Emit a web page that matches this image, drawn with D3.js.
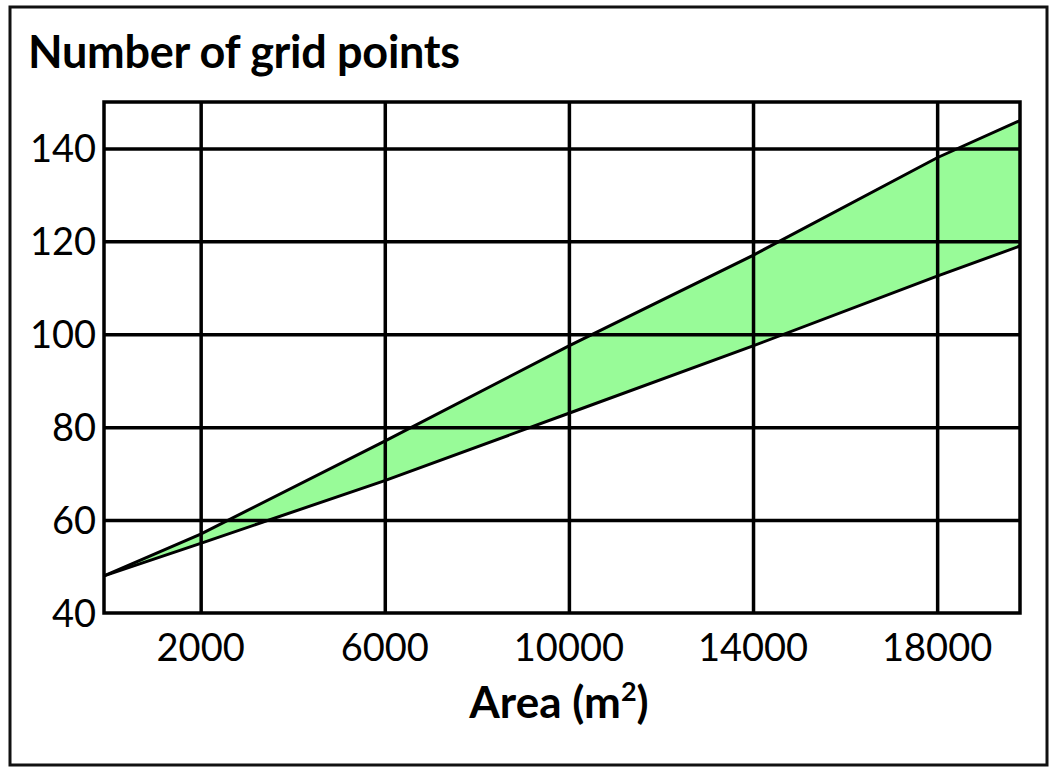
<!DOCTYPE html>
<html>
<head>
<meta charset="utf-8">
<script src="https://cdn.jsdelivr.net/npm/d3@7"></script>
<style>
  body { margin: 0; background: #fff; }
  text { font-family: "Lato", "DejaVu Sans", sans-serif; fill: #000; }
</style>
</head>
<body>
<div id="chart"></div>
<script>
// Data
const areaValues = [-100, 2000, 6000, 10000, 14000, 18000, 19800]
const upperPoints = [48, 57, 77, 97.5, 117, 138, 146]
const lowerPoints = [48, 55, 68.5, 83, 97.5, 112.5, 119]
const xTicks = [2000, 6000, 10000, 14000, 18000]
const yTicks = [40, 60, 80, 100, 120, 140]

// Dimensions
const width = 1054
const height = 772
const plot = {left: 104, right: 1020, top: 102, bottom: 613}
const lineColor = "#000"
const fillColor = "#98fb98"

const svg = d3.select("#chart")
  .append("svg")
    .attr("width", width)
    .attr("height", height)

// Outer frame
svg.append("rect")
    .attr("x", 10).attr("y", 7)
    .attr("width", 1037).attr("height", 758)
    .attr("fill", "none")
    .attr("stroke", "#111")
    .attr("stroke-width", 3)

// Scales
const xScale = d3.scaleLinear()
    .domain([-100, 19800])
    .range([plot.left, plot.right])
const yScale = d3.scaleLinear()
    .domain([40, 150])
    .range([plot.bottom, plot.top])

const band = areaValues.map(function(d, i) {
  return {x: d, lo: lowerPoints[i], hi: upperPoints[i]}
})

// Green band between the two lines
const bandArea = d3.area()
    .x(function(d) { return xScale(d.x) })
    .y0(function(d) { return yScale(d.lo) })
    .y1(function(d) { return yScale(d.hi) })

svg.append("path")
    .datum(band)
    .attr("fill", fillColor)
    .attr("d", bandArea)

// Grid lines
svg.append("g")
    .attr("class", "grid")
    .attr("transform", `translate(0,${plot.bottom})`)
    .call(d3.axisBottom(xScale)
      .tickValues(xTicks)
      .tickSizeInner(-(plot.bottom - plot.top))
      .tickSizeOuter(0)
      .tickFormat(""))

svg.append("g")
    .attr("class", "grid")
    .attr("transform", `translate(${plot.left},0)`)
    .call(d3.axisLeft(yScale)
      .tickValues(yTicks.slice(1))
      .tickSizeInner(-(plot.right - plot.left))
      .tickSizeOuter(0)
      .tickFormat(""))

svg.selectAll(".grid .domain").remove()
svg.selectAll(".grid line")
    .attr("stroke", lineColor)
    .attr("stroke-width", 3.5)

// Boundary lines
const upperLine = d3.line()
    .x(function(d) { return xScale(d.x) })
    .y(function(d) { return yScale(d.hi) })
const lowerLine = d3.line()
    .x(function(d) { return xScale(d.x) })
    .y(function(d) { return yScale(d.lo) })

svg.append("path")
    .datum(band)
    .attr("fill", "none")
    .attr("stroke", lineColor)
    .attr("stroke-width", 3)
    .attr("d", upperLine)

svg.append("path")
    .datum(band)
    .attr("fill", "none")
    .attr("stroke", lineColor)
    .attr("stroke-width", 3)
    .attr("d", lowerLine)

// Plot frame
svg.append("rect")
    .attr("x", plot.left).attr("y", plot.top)
    .attr("width", plot.right - plot.left)
    .attr("height", plot.bottom - plot.top)
    .attr("fill", "none")
    .attr("stroke", lineColor)
    .attr("stroke-width", 3.5)

// Tick labels
svg.selectAll(".y-label")
    .data(yTicks)
    .enter().append("text")
    .attr("x", plot.left - 8)
    .attr("y", function(d) { return yScale(d) + 14 })
    .style("text-anchor", "end")
    .style("font-size", "38px")
    .text(function(d) { return d })

svg.selectAll(".x-label")
    .data(xTicks)
    .enter().append("text")
    .attr("x", function(d) { return xScale(d) })
    .attr("y", plot.bottom + 48)
    .style("text-anchor", "middle")
    .style("font-size", "38px")
    .text(function(d) { return d })

// Titles
svg.append("text")
    .attr("x", 28)
    .attr("y", 68)
    .style("font-size", "45px")
    .style("font-weight", "bold")
    .style("letter-spacing", "-0.3px")
    .text("Number of grid points")

const xTitle = svg.append("text")
    .attr("x", 559)
    .attr("y", 718)
    .style("text-anchor", "middle")
    .style("font-size", "44px")
    .style("font-weight", "bold")
xTitle.append("tspan").text("Area (m")
xTitle.append("tspan").attr("dy", -17).style("font-size", "27px").text("2")
xTitle.append("tspan").attr("dy", 17).text(")")
</script>
</body>
</html>
